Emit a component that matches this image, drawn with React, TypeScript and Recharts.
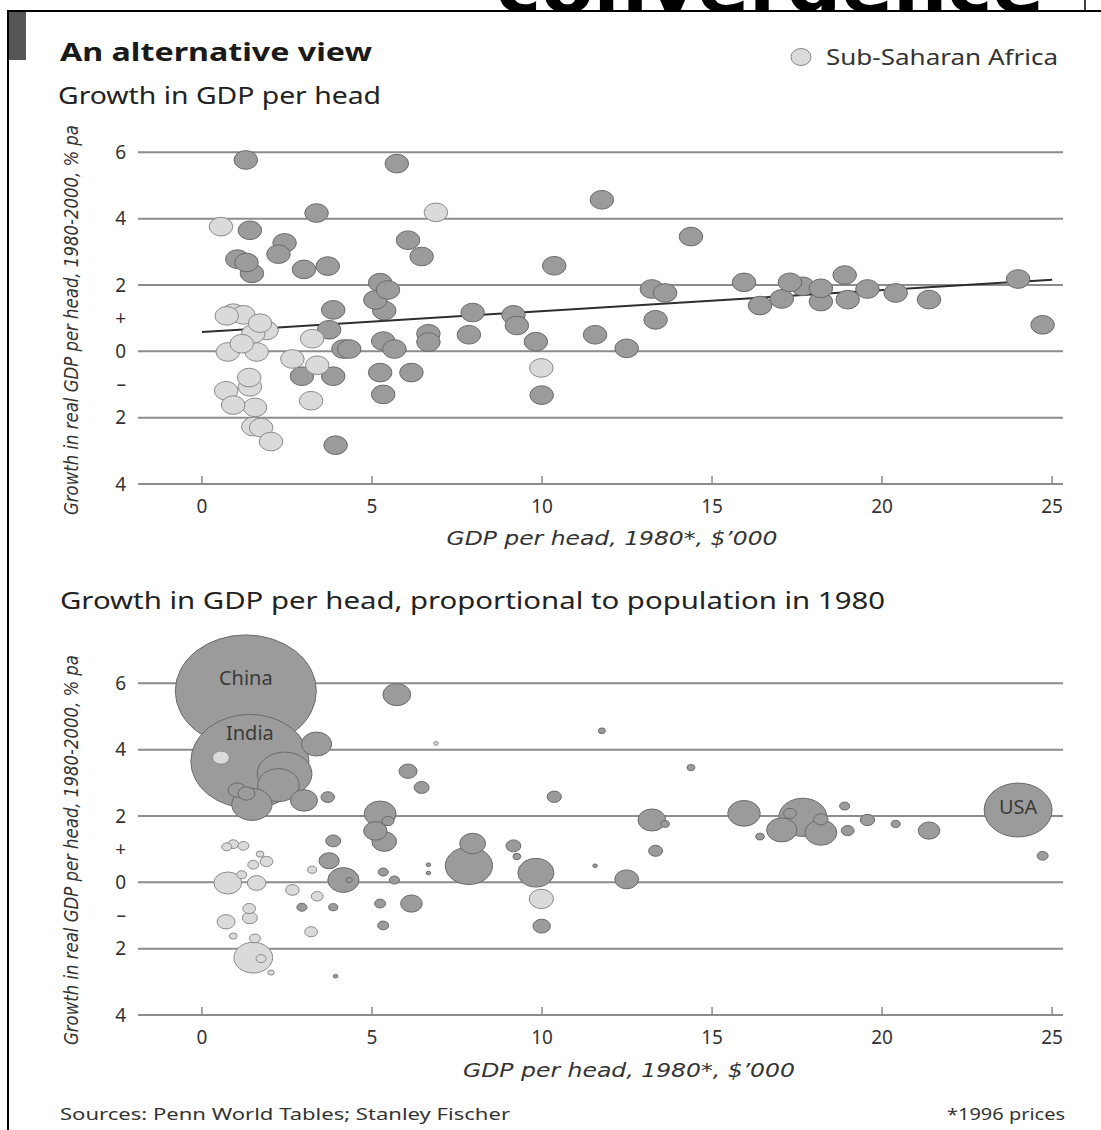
import React from "react";
import {
  ScatterChart,
  Scatter,
  XAxis,
  YAxis,
  ZAxis,
  CartesianGrid,
  ReferenceLine,
  LabelList,
} from "recharts";

// rest of the world: GDP per head 1980 ($'000), growth 1980-2000 (% pa), population 1980 (m)
const otherGdp = [
  1.29, 5.73, 3.37, 1.41, 2.43, 2.25, 6.06, 6.46, 1.04, 1.31, 1.47, 3.0, 3.7, 5.24, 5.47,
  5.1, 5.36, 3.86, 3.74, 6.66, 6.66, 7.85, 4.16, 4.33, 5.33, 5.66, 2.94, 3.86, 5.24, 6.16,
  5.33, 3.93, 7.96, 9.16, 9.26, 9.82, 9.99, 10.36, 11.76, 11.56, 12.49, 13.23, 13.62, 13.34,
  14.38, 15.94, 16.41, 17.05, 17.29, 17.67, 18.2, 18.2, 18.9, 18.99, 19.57, 20.4, 21.38,
  24.0, 24.72,
];
const otherGrowth = [
  5.77, 5.66, 4.17, 3.65, 3.27, 2.93, 3.35, 2.86, 2.78, 2.68, 2.35, 2.47, 2.57, 2.07, 1.85,
  1.55, 1.23, 1.25, 0.65, 0.53, 0.28, 0.5, 0.07, 0.07, 0.31, 0.07, -0.75, -0.75, -0.64,
  -0.64, -1.3, -2.83, 1.17, 1.1, 0.78, 0.29, -1.32, 2.58, 4.57, 0.5, 0.09, 1.88, 1.76, 0.95,
  3.46, 2.08, 1.38, 1.58, 2.08, 1.96, 1.9, 1.5, 2.3, 1.56, 1.88, 1.76, 1.56, 2.18, 0.8,
];
const otherPop = [
  981, 38, 45, 687, 148, 85, 16, 11, 16, 14, 80, 36, 9, 50, 7, 27, 30, 11, 20, 1, 1, 110,
  48, 2, 5, 5, 5, 4, 6, 23, 6, 1, 33, 11, 3, 64, 15, 10, 2.5, 1, 28, 38, 3.5, 9.5, 3, 52,
  3.5, 45, 8, 114, 10, 50, 5, 8, 10, 4, 23, 227, 6,
];
const otherLabels: Record<number, string> = { 0: "China", 3: "India", 57: "USA" };

// sub-Saharan Africa
const africaGdp = [
  6.88, 0.56, 0.92, 0.73, 1.22, 1.71, 1.9, 1.51, 1.17, 0.76, 1.61, 2.66, 3.24, 3.39, 3.21,
  1.39, 1.41, 0.71, 0.92, 1.56, 1.51, 1.74, 2.03, 9.98,
];
const africaGrowth = [
  4.19, 3.76, 1.15, 1.07, 1.1, 0.85, 0.63, 0.53, 0.23, -0.02, -0.02, -0.23, 0.38, -0.42,
  -1.49, -0.79, -1.07, -1.19, -1.62, -1.69, -2.27, -2.3, -2.72, -0.5,
];
const africaPop = [
  1, 14, 6, 5, 6, 3, 8, 6, 5, 38, 17, 9, 4, 7, 8, 8, 11, 16, 3, 6, 74, 5, 2, 29,
];

// fitted trend line end points
const trendLine = [
  { x: 0, y: 0.58 },
  { x: 25, y: 2.16 },
];

const xTicks = [0, 5, 10, 15, 20, 25];
const yTicks = [6, 4, 2, 1, 0, -1, -2, -4];
const yTickLabels = ["6", "4", "2", "+", "0", "\u2013", "2", "4"];
const gridValues = [6, 4, 2, 0, -2];

const other = otherGdp
  .map((x, i) => ({ x, y: otherGrowth[i], z: otherPop[i], name: otherLabels[i] ?? "" }))
  .sort((a, b) => b.z - a.z);
const africa = africaGdp
  .map((x, i) => ({ x, y: africaGrowth[i], z: africaPop[i] }))
  .sort((a, b) => b.z - a.z);

const DARK = "#9b9b9b";
const DARK_EDGE = "#6a6a6a";
const LIGHT = "#dadada";
const LIGHT_EDGE = "#8a8a8a";
const GRID = "#8c8c8c";
const FONT = "'Noto Sans', 'Open Sans', sans-serif";
const NARROW = "'Liberation Sans Narrow', 'DejaVu Sans Condensed', 'Noto Sans', sans-serif";

const bubble = (fill: string, stroke: string) => (props: any) => {
  const r = props.width ? props.width / 2 : Math.sqrt((props.size ?? 64) / Math.PI);
  return (
    <ellipse
      cx={props.cx}
      cy={props.cy}
      rx={r * 1.12}
      ry={r * 0.89}
      fill={fill}
      stroke={stroke}
      strokeWidth={1}
    />
  );
};

const XTick = (props: any) => {
  const { x, y, payload } = props;
  return (
    <g>
      <line x1={x} x2={x} y1={y - 8} y2={y} stroke={GRID} strokeWidth={1.5} />
      <text x={x} y={y + 29} textAnchor="middle" fontSize={19} fill="#333" fontFamily={FONT}>
        {payload.value}
      </text>
    </g>
  );
};

const labelDy: Record<string, number> = { China: -6, India: -21, USA: 4 };

const BubbleLabel = (props: any) => {
  const { x, y, width, height, value } = props;
  if (!value) return null;
  const cx = x + width / 2;
  const cy = y + height / 2;
  return (
    <text
      x={cx}
      y={cy + (labelDy[value] ?? 0)}
      textAnchor="middle"
      fontSize={20}
      fill="#3a3a3a"
      fontFamily={FONT}
    >
      {value}
    </text>
  );
};

type PanelProps = { sized: boolean; top: number; height: number; marginTop: number; xAxisHeight: number };

const Panel = ({ sized, top, height, marginTop, xAxisHeight }: PanelProps) => (
  <div style={{ position: "absolute", left: 0, top }}>
    <ScatterChart
      width={1101}
      height={height}
      margin={{ top: marginTop, right: 38, bottom: 0, left: 0 }}
    >
      <CartesianGrid
        horizontal
        vertical={false}
        horizontalValues={gridValues}
        stroke={GRID}
        strokeWidth={2}
      />
      <XAxis
        type="number"
        dataKey="x"
        domain={[-1.88, 25.32]}
        ticks={xTicks}
        interval={0}
        height={xAxisHeight}
        tickSize={0}
        tickMargin={0}
        tickLine={false}
        axisLine={{ stroke: GRID, strokeWidth: 2 }}
        tick={<XTick />}
      />
      <YAxis
        type="number"
        dataKey="y"
        domain={[-4, 8]}
        ticks={yTicks}
        interval={0}
        width={138}
        tickSize={0}
        tickMargin={12}
        tickLine={false}
        axisLine={false}
        tickFormatter={(v: number) => yTickLabels[yTicks.indexOf(v)]}
        tick={{ fontSize: 19, fill: "#333", fontFamily: FONT }}
      />
      {/* top panel: equal markers; bottom panel: area proportional to population */}
      <ZAxis
        type="number"
        dataKey="z"
        domain={[0, 1000]}
        range={sized ? [0, 12700] : [346, 346]}
      />
      <Scatter data={other} shape={bubble(DARK, DARK_EDGE)} isAnimationActive={false}>
        {sized && <LabelList dataKey="name" content={<BubbleLabel />} />}
      </Scatter>
      <Scatter data={africa} shape={bubble(LIGHT, LIGHT_EDGE)} isAnimationActive={false} />
      {!sized && (
        <ReferenceLine
          segment={trendLine}
          stroke="#2e2e2e"
          strokeWidth={2}
          ifOverflow="visible"
        />
      )}
    </ScatterChart>
  </div>
);

export default function App() {
  const yTitle = "Growth in real GDP per head, 1980-2000, % pa";
  const xTitle = "GDP per head, 1980*, $\u2019000";
  return (
    <div
      style={{
        position: "absolute",
        left: 0,
        top: 0,
        width: 1101,
        height: 1130,
        background: "#fff",
        overflow: "hidden",
      }}
    >
      <svg
        width={1101}
        height={1130}
        style={{ position: "absolute", left: 0, top: 0 }}
      >
        <defs>
          <clipPath id="topClip">
            <rect x={0} y={0} width={1101} height={10} />
          </clipPath>
        </defs>
        <text
          x={496}
          y={12}
          fontSize={70}
          fontWeight="bold"
          fontFamily="'DejaVu Sans', sans-serif"
          textLength={548}
          lengthAdjust="spacingAndGlyphs"
          clipPath="url(#topClip)"
        >
          convergence
        </text>
        <line x1={1085} x2={1085} y1={0} y2={10} stroke="#000" strokeWidth={1.5} />
        <line x1={7} x2={1101} y1={11} y2={11} stroke="#000" strokeWidth={2} />
        <line x1={8} x2={8} y1={10} y2={1130} stroke="#000" strokeWidth={2} />
        <rect x={9} y={12} width={17} height={48} fill="#555" />

        <text x={60} y={61} fontSize={25} fontWeight="bold" fill="#1a1a1a" fontFamily={FONT}
          textLength={312} lengthAdjust="spacingAndGlyphs">
          An alternative view
        </text>
        <text x={58} y={104} fontSize={24} fill="#222" fontFamily={FONT}
          textLength={323} lengthAdjust="spacingAndGlyphs">
          Growth in GDP per head
        </text>
        <ellipse cx={801} cy={57} rx={10} ry={8.5} fill={LIGHT} stroke={LIGHT_EDGE} />
        <text x={826} y={65} fontSize={21} fill="#333" fontFamily={FONT}
          textLength={232} lengthAdjust="spacingAndGlyphs">
          Sub-Saharan Africa
        </text>

        <text transform="translate(78,320) rotate(-90)" textAnchor="middle" fontSize={19}
          fontStyle="italic" fill="#333" fontFamily={NARROW}
          textLength={390} lengthAdjust="spacingAndGlyphs">
          {yTitle}
        </text>
        <text x={612} y={545} textAnchor="middle" fontSize={20} fontStyle="italic" fill="#333"
          fontFamily={NARROW} textLength={331} lengthAdjust="spacingAndGlyphs">
          {xTitle}
        </text>

        <text x={60} y={609} fontSize={24} fill="#222" fontFamily={FONT}
          textLength={825} lengthAdjust="spacingAndGlyphs">
          Growth in GDP per head, proportional to population in 1980
        </text>
        <text transform="translate(78,850) rotate(-90)" textAnchor="middle" fontSize={19}
          fontStyle="italic" fill="#333" fontFamily={NARROW}
          textLength={390} lengthAdjust="spacingAndGlyphs">
          {yTitle}
        </text>
        <text x={629} y={1077} textAnchor="middle" fontSize={20} fontStyle="italic" fill="#333"
          fontFamily={NARROW} textLength={332} lengthAdjust="spacingAndGlyphs">
          {xTitle}
        </text>

        <text x={60} y={1120} fontSize={17} fill="#333" fontFamily={FONT}
          textLength={450} lengthAdjust="spacingAndGlyphs">
          Sources: Penn World Tables; Stanley Fischer
        </text>
        <text x={1065} y={1120} textAnchor="end" fontSize={17} fill="#333" fontFamily={FONT}
          textLength={118} lengthAdjust="spacingAndGlyphs">
          *1996 prices
        </text>
      </svg>

      <Panel sized={false} top={0} height={560} marginTop={86} xAxisHeight={76} />
      <Panel sized top={560} height={540} marginTop={57} xAxisHeight={85} />
    </div>
  );
}
